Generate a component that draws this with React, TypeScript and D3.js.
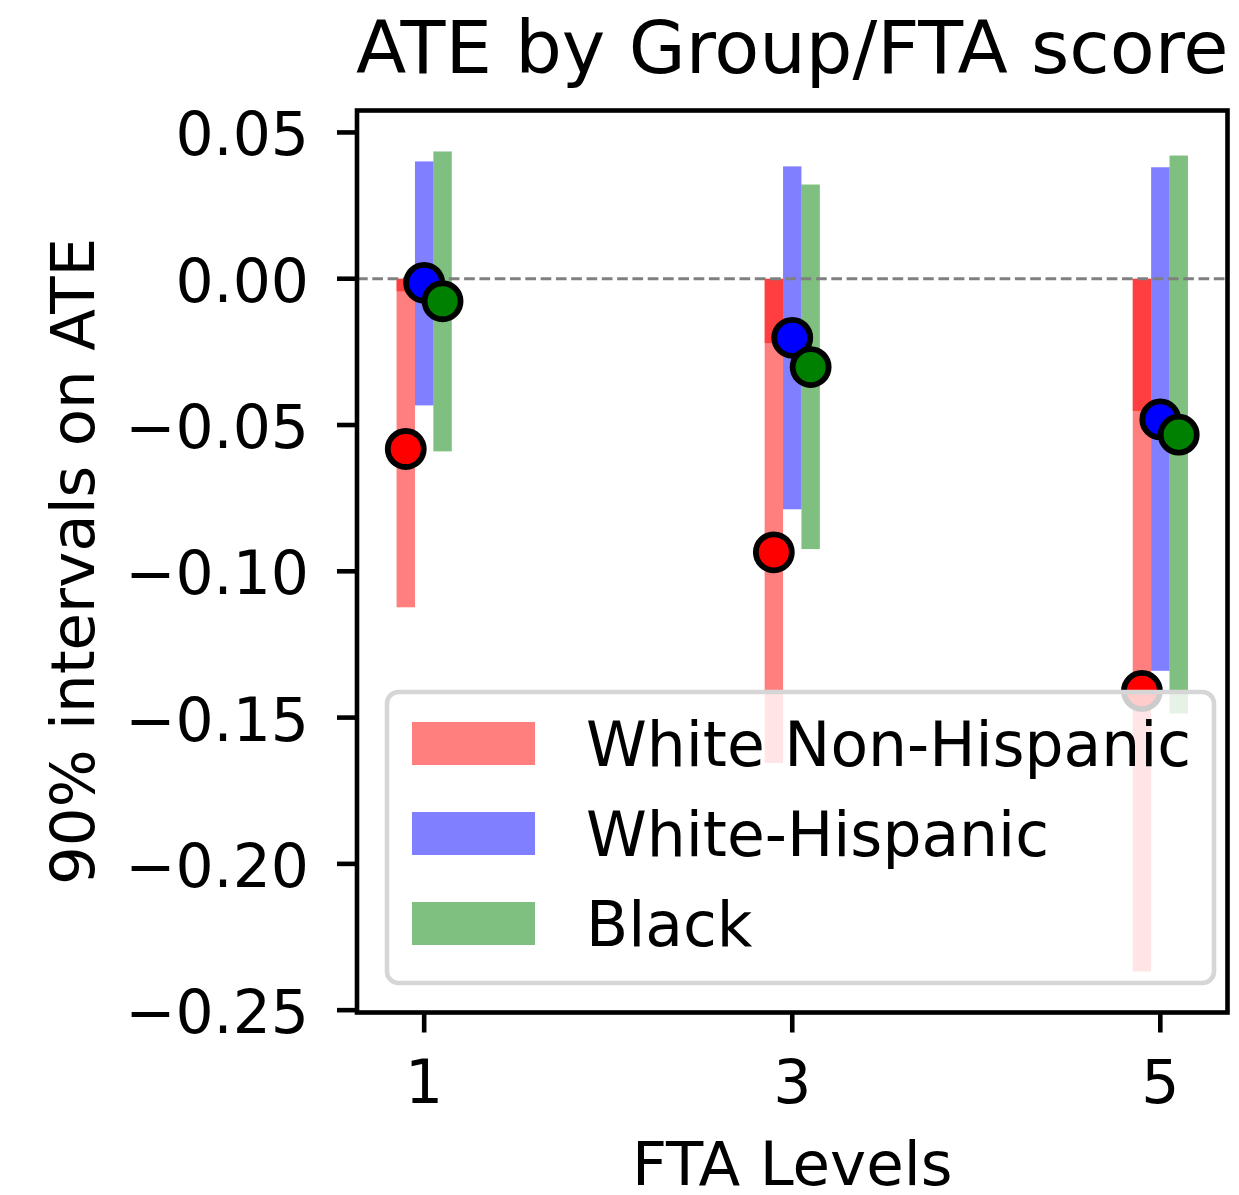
import React from "react";
import * as d3 from "d3";

const levels = [1, 3, 5];
const groups = ["White Non-Hispanic", "White-Hispanic", "Black"];
const barColors = ["rgba(255,0,0,0.5)", "rgba(0,0,255,0.5)", "rgba(0,128,0,0.5)"];
const pointColors = ["#ff0000", "#0000ff", "#008000"];
const offsets = [-0.1, 0, 0.1];

// White Non-Hispanic: bar spans [lower, 0], darker overlay spans [inner, 0]
const whiteNHLower = [-0.1123, -0.1655, -0.2368];
const whiteNHTop = [0, 0, 0];
const whiteNHInner = [-0.0043, -0.022, -0.0452];
const whiteNHPoint = [-0.0582, -0.0935, -0.1409];

const whiteHLower = [-0.0433, -0.0788, -0.134];
const whiteHUpper = [0.0401, 0.0384, 0.0381];
const whiteHPoint = [-0.0014, -0.0202, -0.0481];

const blackLower = [-0.059, -0.0924, -0.1486];
const blackUpper = [0.0435, 0.0322, 0.0421];
const blackPoint = [-0.0077, -0.0302, -0.0533];

const yTicks = [0.05, 0, -0.05, -0.1, -0.15, -0.2, -0.25];

const W = 1239;
const H = 1195;
const left = 357;
const right = 1227.5;
const top = 110.5;
const bottom = 1012.5;
const FONT = "DejaVu Sans, sans-serif";

export default function App() {
  const x = d3.scaleLinear().domain([0.635, 5.365]).range([left, right]);
  const y = d3.scaleLinear().domain([-0.2508, 0.0575]).range([bottom, top]);
  const bw = x(0.1) - x(0);

  const lowers = [whiteNHLower, whiteHLower, blackLower];
  const uppers = [whiteNHTop, whiteHUpper, blackUpper];
  const points = [whiteNHPoint, whiteHPoint, blackPoint];

  const fmt = (v: number) => {
    const s = Math.abs(v).toFixed(2);
    return v < -1e-9 ? "\u2212" + s : s;
  };

  const legX = 387, legY = 692, legW = 827, legH = 291;

  return (
    <svg width={W} height={H} style={{ display: "block", position: "absolute", left: 0, top: 0 }} fontFamily={FONT}>
      <rect x={0} y={0} width={W} height={H} fill="#ffffff" />
      <defs>
        <clipPath id="plotclip">
          <rect x={left} y={top} width={right - left} height={bottom - top} />
        </clipPath>
      </defs>
      <g clipPath="url(#plotclip)">
        {groups.map((g, gi) =>
          levels.map((lv, i) => (
            <rect
              key={`b-${gi}-${i}`}
              x={x(lv + offsets[gi]) - bw / 2}
              width={bw}
              y={y(uppers[gi][i])}
              height={y(lowers[gi][i]) - y(uppers[gi][i])}
              fill={barColors[gi]}
            />
          ))
        )}
        {levels.map((lv, i) => (
          <rect
            key={`o-${i}`}
            x={x(lv + offsets[0]) - bw / 2}
            width={bw}
            y={y(whiteNHTop[i])}
            height={y(whiteNHInner[i]) - y(whiteNHTop[i])}
            fill={barColors[0]}
          />
        ))}
        <line x1={left} x2={right} y1={y(0)} y2={y(0)} stroke="#808080" strokeWidth={2.9} strokeDasharray="10.7,4.6" />
        {groups.map((g, gi) =>
          levels.map((lv, i) => (
            <circle
              key={`p-${gi}-${i}`}
              cx={x(lv + offsets[gi])}
              cy={y(points[gi][i])}
              r={18}
              fill={pointColors[gi]}
              stroke="#000"
              strokeWidth={5.8}
            />
          ))
        )}
      </g>

      {/* legend */}
      <rect x={legX} y={legY} width={legW} height={legH} rx={11.6} ry={11.6} fill="rgba(255,255,255,0.8)" stroke="#d6d6d6" strokeWidth={4.6} />
      {groups.map((g, gi) => (
        <g key={`l-${gi}`}>
          <rect x={412} y={722 + gi * 90} width={123} height={43} fill={barColors[gi]} />
          <text x={586} y={765.5 + gi * 90} fontSize={61.5} fill="#000">{g}</text>
        </g>
      ))}

      {/* spines */}
      <rect x={left} y={top} width={right - left} height={bottom - top} fill="none" stroke="#000" strokeWidth={4.6} />

      {/* y ticks */}
      {yTicks.map((t) => (
        <g key={`yt-${t}`}>
          <line x1={left - 20} x2={left} y1={y(t)} y2={y(t)} stroke="#000" strokeWidth={4.6} />
          <text x={309} y={y(t) + 23} textAnchor="end" fontSize={60} fill="#000">{fmt(t)}</text>
        </g>
      ))}
      {/* x ticks */}
      {levels.map((lv) => (
        <g key={`xt-${lv}`}>
          <line x1={x(lv)} x2={x(lv)} y1={bottom} y2={bottom + 20} stroke="#000" strokeWidth={4.6} />
          <text x={x(lv)} y={1103} textAnchor="middle" fontSize={60} fill="#000">{lv}</text>
        </g>
      ))}

      <text x={(left + right) / 2} y={1185} textAnchor="middle" fontSize={61} fill="#000">FTA Levels</text>
      <text transform={`translate(94, ${(top + bottom) / 2}) rotate(-90)`} textAnchor="middle" fontSize={61} fill="#000">90% intervals on ATE</text>
      <text x={(left + right) / 2} y={73} textAnchor="middle" fontSize={73.5} fill="#000">ATE by Group/FTA score</text>
    </svg>
  );
}
